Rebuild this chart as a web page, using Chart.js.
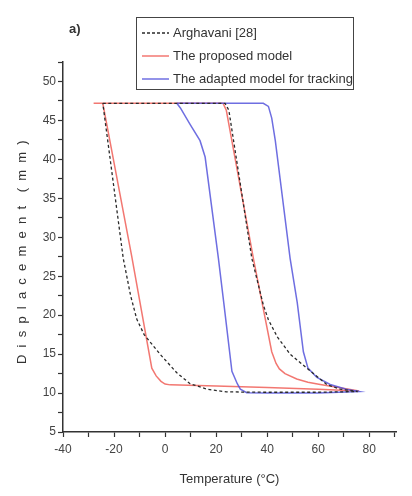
<!DOCTYPE html>
<html>
<head>
<meta charset="utf-8">
<script src="https://cdn.jsdelivr.net/npm/chart.js@4"></script>
<style>
  body { margin: 0; background: #fff; }
  #wrap { width: 412px; height: 496px; }
</style>
</head>
<body>
<div id="wrap"><canvas id="chart" width="412" height="496"></canvas></div>
<script>
// Arghavani [28] (dashed)
const arghX = [-24.4, 0, 23.5, 25, 34, 38.5, 40.5, 44, 49, 53, 57, 63.4, 68.6, 75.5, 60, 40, 24, 16.4, 9.8, 4.6, -2, -8.2, -11.1, -13.5, -16.4, -24.4];
const arghY = [47.2, 47.2, 47.2, 46.3, 27.3, 21.3, 19.4, 17.2, 15, 13.9, 12.8, 11.1, 10.5, 10.2, 10.1, 10.1, 10.15, 10.5, 11.2, 12.6, 15, 17.5, 19.5, 22.5, 27.3, 47.2];

// The proposed model (red)
const propX = [-28, -24.4, 0, 22.7, 24, 34.6, 38.5, 41.8, 43.5, 44.8, 47, 51.6, 56, 60.8, 68, 76, 60, 40, 20, 2, 0, -1.6, -3.5, -5.2, -13.1, -24.4];
const propY = [47.2, 47.2, 47.2, 47.2, 46.3, 27.3, 20.8, 15.3, 13.8, 13.1, 12.5, 11.8, 11.4, 11.1, 10.7, 10.25, 10.5, 10.7, 10.9, 11.05, 11.15, 11.5, 12.2, 13.2, 27.6, 47.2];

// The adapted model for tracking (blue)
const adapX = [4.6, 38.5, 40.5, 41.8, 43.2, 49, 51.8, 54.2, 56, 59.5, 64.7, 71, 76, 60, 40, 32, 29.5, 28.3, 26.2, 23, 20.9, 15.7, 13.7, 9.8, 6, 4.6];
const adapY = [47.2, 47.2, 46.8, 45.3, 42.4, 27.3, 21.6, 15.3, 13.2, 12, 11.1, 10.5, 10.2, 10.0, 10.0, 10.05, 10.5, 11.2, 12.8, 21.6, 27.3, 40.3, 42.4, 44.5, 46.6, 47.2];

const seriesNames = ['Arghavani [28]', 'The proposed model', 'The adapted model for tracking'];
const xTickStep = 20, yTickStep = 5;

const FONT = "'Liberation Sans', Arial, sans-serif";
const toPts = (xs, ys) => xs.map((x, i) => ({ x: x, y: ys[i] }));

const colBlack = '#2a2a2a';
const colRed = 'rgba(240, 95, 88, 0.85)';
const colBlue = 'rgba(85, 85, 220, 0.85)';

const overlay = {
  id: 'overlay',
  afterDraw(chart) {
    const ctx = chart.ctx;
    const area = chart.chartArea;
    ctx.save();
    ctx.fillStyle = '#333';
    // panel tag
    ctx.font = 'bold 13px ' + FONT;
    ctx.textAlign = 'left';
    ctx.textBaseline = 'middle';
    ctx.fillText('a)', 69, 29);

    // x title
    ctx.font = '13px ' + FONT;
    ctx.textAlign = 'center';
    ctx.fillText('Temperature (\u00B0C)', (area.left + area.right) / 2, 479);

    // y title, letter spaced
    const yt = 'Displacement (mm)';
    ctx.font = '13px ' + FONT;
    const w0 = ctx.measureText(yt).width;
    const sp = (228 - w0) / (yt.length - 1);
    ctx.translate(22, (area.top + area.bottom) / 2 + 3);
    ctx.rotate(-Math.PI / 2);
    ctx.textAlign = 'left';
    let cx = -114;
    for (const ch of yt) {
      ctx.fillText(ch, cx, 0);
      cx += ctx.measureText(ch).width + (ch === ' ' ? sp * 0.4 : sp);
    }
    ctx.restore();

    // legend
    ctx.save();
    ctx.fillStyle = '#fff';
    ctx.fillRect(136, 17, 217, 72);
    ctx.strokeStyle = '#444';
    ctx.lineWidth = 1;
    ctx.strokeRect(136.5, 17.5, 217, 72);
    const cols = [colBlack, colRed, colBlue];
    const rows = [33, 56, 79];
    ctx.font = '13px ' + FONT;
    ctx.textBaseline = 'middle';
    ctx.textAlign = 'left';
    rows.forEach((y, i) => {
      ctx.beginPath();
      ctx.strokeStyle = cols[i];
      ctx.lineWidth = 1.5;
      ctx.setLineDash(i === 0 ? [3, 2] : []);
      ctx.moveTo(142, y);
      ctx.lineTo(169, y);
      ctx.stroke();
      ctx.setLineDash([]);
      ctx.fillStyle = '#333';
      ctx.fillText(seriesNames[i], 173, y);
    });
    ctx.restore();
  }
};

new Chart(document.getElementById('chart'), {
  type: 'scatter',
  data: {
    datasets: [{
      label: seriesNames[0],
      data: toPts(arghX, arghY),
      borderColor: colBlack,
      borderWidth: 1.3,
      borderDash: [3, 2.5],
      showLine: true,
      pointRadius: 0,
      tension: 0
    }, {
      label: seriesNames[2],
      data: toPts(adapX, adapY),
      borderColor: colBlue,
      borderWidth: 1.5,
      showLine: true,
      pointRadius: 0,
      tension: 0
    }, {
      label: seriesNames[1],
      data: toPts(propX, propY),
      borderColor: colRed,
      borderWidth: 1.5,
      showLine: true,
      pointRadius: 0,
      tension: 0
    }]
  },
  options: {
    responsive: false,
    animation: false,
    layout: { padding: { top: 62, right: 16, left: 0, bottom: 0 } },
    plugins: { legend: { display: false }, tooltip: { enabled: false } },
    scales: {
      x: {
        type: 'linear',
        min: -40,
        max: 90.5,
        afterFit: s => { s.height = 64; },
        border: { display: true, color: '#333', width: 1.5 },
        grid: { drawOnChartArea: false, tickLength: 5, color: '#333', tickWidth: 1.2 },
        ticks: {
          stepSize: 10,
          includeBounds: false,
          autoSkip: false,
          maxRotation: 0,
          padding: 5,
          color: '#444',
          font: { family: FONT, size: 12 },
          callback: v => (v % xTickStep === 0 ? v : '')
        }
      },
      y: {
        type: 'linear',
        min: 5,
        max: 52.5,
        afterFit: s => { s.width = 63; },
        border: { display: true, color: '#333', width: 1.5 },
        grid: { drawOnChartArea: false, tickLength: 5, color: '#333', tickWidth: 1.2 },
        ticks: {
          stepSize: 2.5,
          includeBounds: false,
          autoSkip: false,
          padding: 2,
          color: '#444',
          font: { family: FONT, size: 12 },
          callback: v => (v % yTickStep === 0 ? v : '')
        }
      }
    }
  },
  plugins: [overlay]
});
</script>
</body>
</html>
